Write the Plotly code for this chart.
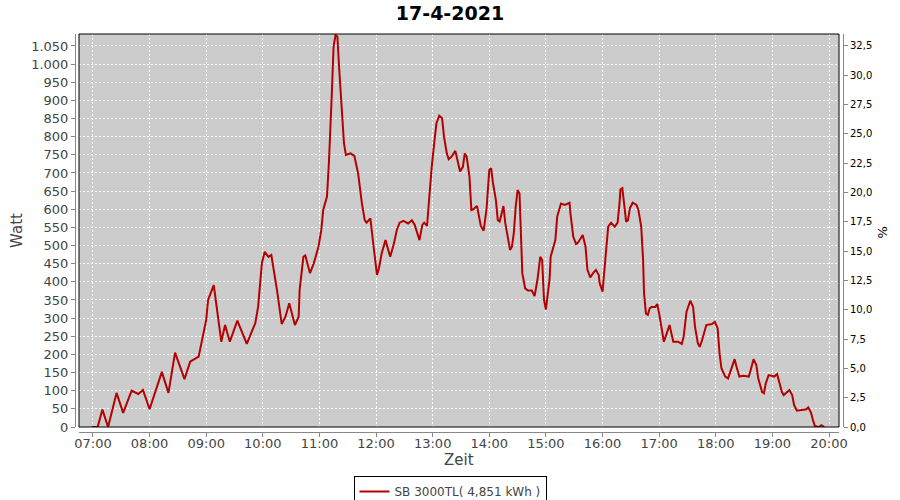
import plotly.graph_objects as go

DAY = "2021-04-17"
times = ["06:59","07:05","07:10","07:16","07:25","07:32","07:41","07:48","07:53","08:00",
         "08:13","08:20","08:27","08:37","08:43","08:48","08:52","09:00","09:02","09:08",
         "09:16","09:20","09:25","09:33","09:43","09:52","09:55","09:59","10:02","10:06",
         "10:09","10:15","10:20","10:24","10:28","10:34","10:38","10:39","10:43","10:45",
         "10:50","10:54","10:59","11:02","11:04","11:08","11:10","11:13","11:15","11:17",
         "11:19","11:21","11:24","11:26","11:28","11:33","11:37","11:41","11:45","11:48",
         "11:50","11:54","11:57","12:01","12:03","12:06","12:10","12:15","12:19","12:22",
         "12:25","12:29","12:34","12:38","12:41","12:46","12:49","12:51","12:54","12:55",
         "12:57","12:59","13:02","13:04","13:07","13:10","13:12","13:15","13:17","13:20",
         "13:24","13:27","13:29","13:32","13:34","13:36","13:39","13:41","13:43","13:47",
         "13:49","13:51","13:54","13:57","14:00","14:02","14:04","14:07","14:09","14:11",
         "14:14","14:15","14:17","14:20","14:22","14:24","14:26","14:28","14:30","14:32",
         "14:34","14:35","14:38","14:41","14:45","14:48","14:51","14:54","14:56","14:58",
         "15:00","15:03","15:04","15:05","15:08","15:10","15:12","15:16","15:20","15:25",
         "15:26","15:29","15:32","15:34","15:39","15:42","15:44","15:47","15:50","15:53",
         "15:56","15:57","16:00","16:02","16:04","16:06","16:09","16:13","16:16","16:18",
         "16:19","16:21","16:23","16:25","16:27","16:29","16:32","16:36","16:38","16:41",
         "16:43","16:44","16:46","16:48","16:50","16:52","16:56","16:58","17:00","17:03",
         "17:05","17:08","17:11","17:13","17:15","17:18","17:20","17:24","17:26","17:29",
         "17:33","17:36","17:38","17:41","17:43","17:45","17:48","17:50","17:56","17:59",
         "18:02","18:04","18:06","18:10","18:13","18:17","18:20","18:22","18:25","18:29",
         "18:35","18:37","18:40","18:43","18:45","18:49","18:51","18:53","18:56","18:59",
         "19:02","19:05","19:07","19:10","19:12","19:15","19:18","19:21","19:23","19:26",
         "19:31","19:36","19:38","19:41","19:43","19:45","19:49","19:52","19:55"]
watt = [0,0,48,0,94,39,100,91,102,49,
        152,94,205,132,180,189,194,295,350,391,
        235,281,235,293,229,286,331,451,483,469,
        474,378,284,304,341,281,304,378,469,473,
        424,451,497,543,598,635,727,910,1048,1080,
        1076,984,864,782,750,754,747,699,616,570,
        563,575,506,419,437,479,515,469,506,543,
        563,568,561,570,557,515,557,563,554,589,
        635,717,791,837,858,851,800,754,738,745,
        761,731,704,717,754,745,690,598,600,609,
        584,554,541,598,708,713,671,625,570,566,
        598,609,561,520,488,497,534,607,653,644,
        506,424,382,376,376,361,405,469,460,350,
        324,378,410,469,497,515,580,616,612,618,
        589,524,504,508,529,497,433,412,424,433,
        419,396,373,424,492,552,563,552,563,616,
        655,658,607,566,570,603,618,612,598,552,
        460,368,313,309,327,331,331,339,313,258,
        235,258,281,258,235,235,235,229,249,318,
        348,331,276,231,221,235,267,281,284,290,
        272,203,162,139,134,162,187,166,139,141,
        139,157,187,171,134,97,93,120,143,141,
        139,146,125,97,88,94,102,88,61,45,
        47,49,54,39,19,3,0,5,0]

series_name = "SB 3000TL( 4,851 kWh )"
title_text = "17-4-2021"
hour_ticks = ["%02d:00" % h for h in range(7, 21)]

x = [f"{DAY} {t}" for t in times]
W_MAX = 1083
PCT_MAX = W_MAX * 32.5 / 1050

fig = go.Figure()
fig.add_trace(go.Scatter(x=x, y=watt, mode="lines", name=series_name,
                         line=dict(color="#b40000", width=2)))
# invisible trace for right axis
fig.add_trace(go.Scatter(x=[x[0]], y=[0], yaxis="y2", mode="lines",
                         showlegend=False, hoverinfo="skip",
                         line=dict(color="rgba(0,0,0,0)")))

font_f = "DejaVu Sans"
grid = dict(showgrid=True, gridcolor="white", griddash="2px,2px", gridwidth=1)

fig.update_layout(
    template="none",
    width=900, height=500,
    margin=dict(l=75, r=57, t=34, b=68, autoexpand=False),
    paper_bgcolor="white",
    plot_bgcolor="#cccccc",
    separators=",.",
    font=dict(family=font_f, color="#444444"),
    title=dict(text=f"<b>{title_text}</b>", x=0.5, xanchor="center", xref="container",
               y=1 - 13 / 500, yanchor="middle",
               font=dict(family=font_f, size=19, color="black")),
    xaxis=dict(type="date", domain=[4 / 768, 764 / 768], anchor="free", position=0,
               automargin=False,
               range=[f"{DAY} 06:45:12", f"{DAY} 20:10:36"],
               tickvals=[f"{DAY} {t}" for t in hour_ticks], ticktext=hour_ticks,
               showline=True, linecolor="#888888", linewidth=1,
               ticks="outside", ticklen=4, tickcolor="#888888",
               ticklabelstandoff=-5,
               tickfont=dict(size=13, color="#444444"),
               zeroline=False, **grid),
    yaxis=dict(domain=[5 / 398, 1], anchor="free", position=0, automargin=False,
               range=[0, W_MAX], dtick=50, tick0=0, separatethousands=True,
               showline=True, linecolor="#888888", linewidth=1,
               ticks="outside", ticklen=4, tickcolor="#888888",
               tickfont=dict(size=13, color="#444444"),
               title=dict(text="Watt", font=dict(size=15, color="#444444"), standoff=3),
               zeroline=False, **grid),
    yaxis2=dict(domain=[5 / 398, 1], anchor="free", position=1, overlaying="y", side="right",
                automargin=False,
                range=[0, PCT_MAX], dtick=2.5, tick0=0, tickformat=".1f",
                showline=True, linecolor="#888888", linewidth=1,
                ticks="outside", ticklen=4, tickcolor="#888888",
                tickfont=dict(size=10, color="black"),
                showgrid=False, zeroline=False),
    legend=dict(orientation="h", x=0.5, xanchor="center", xref="container",
                y=1 - 476 / 500, yanchor="top", yref="container",
                bordercolor="black", borderwidth=1, bgcolor="white",
                font=dict(size=12, color="#444444")),
    shapes=[dict(type="rect", xref="x domain", yref="y domain", x0=0, x1=1, y0=0, y1=1,
                 line=dict(color="black", width=1), fillcolor="rgba(0,0,0,0)", layer="above")],
    annotations=[
        dict(text="%", xref="paper", yref="paper", x=1, xshift=48,
             y=0.5, textangle=-90, showarrow=False,
             font=dict(size=13, color="black")),
        dict(text="Zeit", xref="x domain", yref="paper", x=0.5, xanchor="center",
             y=(432 - 460) / 398, yanchor="middle", showarrow=False,
             font=dict(size=15, color="#444444")),
    ],
)

fig.write_html("out.html", config={"displayModeBar": False},
               post_script="document.body.style.margin='0';document.body.style.overflow='hidden';")
